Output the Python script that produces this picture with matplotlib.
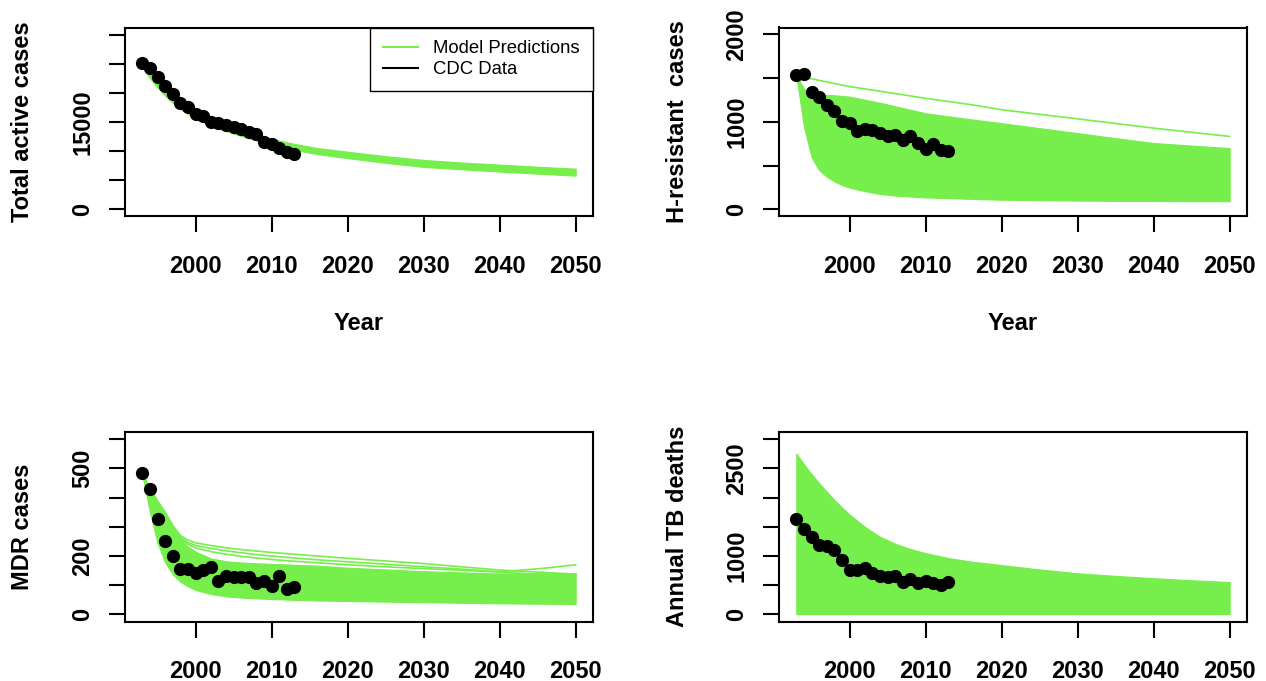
import matplotlib
matplotlib.use('Agg')
import matplotlib.pyplot as plt
from matplotlib.lines import Line2D

plt.rcParams['font.family'] = ['Liberation Sans', 'DejaVu Sans']

GREEN = '#76EE4C'

# CDC surveillance data, 1993-2013
cdc_years = list(range(1993, 2014))
total_cases = [25108, 24206, 22726, 21210, 19751, 18287, 17499, 16308, 15945, 15055, 14835,
               14499, 14065, 13732, 13282, 12898, 11523, 11161, 10509, 9940, 9582]
hres_cases = [1537, 1548, 1347, 1284, 1196, 1131, 1006, 994, 900, 922, 911,
              873, 835, 854, 797, 843, 760, 691, 752, 676, 672]
mdr_cases = [485, 430, 325, 251, 200, 156, 157, 141, 153, 162, 116,
             130, 127, 127, 127, 107, 116, 98, 130, 86, 95]
tb_deaths = [1627, 1467, 1324, 1193, 1165, 1108, 936, 765, 765, 790, 708,
             650, 648, 652, 553, 600, 531, 569, 540, 510, 560]

# model prediction envelopes (min / max over runs)
model_years = [1993, 1994, 1995, 1996, 1997, 1998, 1999, 2000, 2002, 2004, 2006,
               2008, 2010, 2013, 2016, 2020, 2025, 2030, 2035, 2040, 2045, 2050]
total_hi = [24900, 23200, 21800, 20500, 19300, 18300, 17400, 16600, 15400, 14450, 13600,
            12850, 12100, 11250, 10550, 9900, 9150, 8500, 8050, 7700, 7330, 7000]
total_lo = [24500, 22500, 20900, 19500, 18300, 17300, 16400, 15600, 14400, 13450, 12600,
            11850, 11100, 10200, 9500, 8800, 8000, 7300, 6900, 6500, 6150, 5800]

hres_hi = [1530, 1380, 1322, 1315, 1310, 1305, 1298, 1290, 1255, 1220, 1180,
           1140, 1100, 1065, 1030, 987, 930, 873, 815, 760, 730, 702]
hres_lo = [1530, 950, 600, 450, 375, 322, 280, 250, 210, 178, 160,
           148, 138, 130, 122, 112, 106, 102, 99, 97, 96, 95]
hres_top = [1530, 1512, 1494, 1476, 1458, 1440, 1422, 1405, 1378, 1352, 1325,
            1298, 1270, 1235, 1198, 1140, 1088, 1036, 983, 930, 882, 835]

mdr_hi = [478, 430, 385, 345, 296, 258, 232, 215, 192, 182, 178,
          175, 173, 170, 167, 160, 154, 148, 144, 140, 141, 142]
mdr_lo = [478, 350, 245, 178, 137, 112, 96, 84, 70, 62, 58,
          55, 53, 50, 48, 46, 44, 42, 40, 38, 37, 36]
mdr_top = [
    [478, 432, 388, 350, 305, 270, 254, 245, 236, 228, 222, 217, 212, 206, 200, 192, 183, 174, 163, 152, 145, 138],
    [478, 430, 386, 347, 300, 264, 246, 236, 226, 218, 211, 205, 200, 193, 187, 180, 172, 163, 155, 146, 156, 170],
    [478, 428, 384, 344, 297, 260, 240, 228, 215, 206, 199, 193, 188, 182, 177, 170, 163, 157, 151, 145, 138, 132],
]

deaths_hi = [2750, 2570, 2400, 2245, 2100, 1960, 1830, 1710, 1500, 1330, 1210,
             1120, 1050, 965, 905, 845, 770, 705, 660, 620, 585, 555]
deaths_lo = [8, 8, 8, 8, 8, 8, 8, 8, 8, 8, 8,
             8, 8, 8, 8, 8, 8, 8, 8, 8, 8, 8]

# axis ticks; R drops the labels that would overlap
total_ticks = [0, 5000, 10000, 15000, 20000, 25000, 30000]
total_labels = ['0', '', '', '15000', '', '', '']
hres_ticks = [0, 500, 1000, 1500, 2000]
hres_labels = ['0', '', '1000', '', '2000']
mdr_ticks = [0, 100, 200, 300, 400, 500, 600]
mdr_labels = ['0', '', '200', '', '', '500', '']
deaths_ticks = [0, 500, 1000, 1500, 2000, 2500, 3000]
deaths_labels = ['0', '', '1000', '', '', '2500', '']
year_ticks = [2000, 2010, 2020, 2030, 2040, 2050]

W, H = 1266, 681
fig = plt.figure(figsize=(W / 100, H / 100), dpi=100)


def panel(left, top, height, ylabel, ticks, labels, xlabel=True):
    ax = fig.add_axes([left / W, 1 - (top + height) / H, 468 / W, height / H])
    x0, x1 = 1993, 2050
    ax.set_xlim(x0 - 0.04 * (x1 - x0), x1 + 0.04 * (x1 - x0))
    y1 = ticks[-1]
    ax.set_ylim(-0.04 * y1, 1.04 * y1)
    ax.set_xticks(year_ticks, [str(y) for y in year_ticks], fontweight='bold')
    ax.set_yticks(ticks, labels, rotation=90, va='center', fontweight='bold')
    ax.tick_params(axis='both', direction='out', length=11.5, width=1.5, labelsize=17)
    ax.tick_params(axis='x', pad=16)
    ax.tick_params(axis='y', pad=10.5)
    for s in ax.spines.values():
        s.set_linewidth(1.5)
    ax.set_ylabel(ylabel, fontsize=17, fontweight='bold')
    ax.yaxis.set_label_coords(-90.5 / 468, 0.5)
    if xlabel:
        ax.set_xlabel('Year', fontsize=17, fontweight='bold')
        ax.xaxis.set_label_coords(0.5, -95.5 / height)
    return ax


# total active cases
ax = panel(125, 27.5, 189, 'Total active cases', total_ticks, total_labels)
ax.fill_between(model_years, total_lo, total_hi, color=GREEN, lw=0.8, edgecolor=GREEN)
ax.plot(cdc_years, total_cases, 'o', color='black', markersize=8.5)
handles = [Line2D([], [], color=GREEN, lw=1.5), Line2D([], [], color='black', lw=1.5)]
leg = ax.legend(handles, ['Model Predictions', 'CDC Data'], loc='upper right',
                borderaxespad=0, fancybox=False, framealpha=1, fontsize=13.3,
                handlelength=1.9, handletextpad=0.85, borderpad=0.7, labelspacing=0.2)
leg.get_frame().set_edgecolor('black')
leg.get_frame().set_linewidth(1.0)

# isoniazid-resistant cases
ax = panel(779, 27.5, 189, 'H-resistant  cases', hres_ticks, hres_labels)
ax.fill_between(model_years, hres_lo, hres_hi, color=GREEN, lw=0.8, edgecolor=GREEN)
ax.plot(model_years, hres_top, color=GREEN, lw=1.2)
ax.plot(cdc_years, hres_cases, 'o', color='black', markersize=8.5)

# MDR cases
ax = panel(125, 432, 189.5, 'MDR cases', mdr_ticks, mdr_labels, xlabel=False)
ax.fill_between(model_years, mdr_lo, mdr_hi, color=GREEN, lw=0.8, edgecolor=GREEN)
for run in mdr_top:
    ax.plot(model_years, run, color=GREEN, lw=1.2)
ax.plot(cdc_years, mdr_cases, 'o', color='black', markersize=8.5)

# annual deaths
ax = panel(779, 432, 189.5, 'Annual TB deaths', deaths_ticks, deaths_labels, xlabel=False)
ax.fill_between(model_years, deaths_lo, deaths_hi, color=GREEN, lw=0.8, edgecolor=GREEN)
ax.plot(cdc_years, tb_deaths, 'o', color='black', markersize=8.5)

fig.savefig('out.png', dpi=100)
